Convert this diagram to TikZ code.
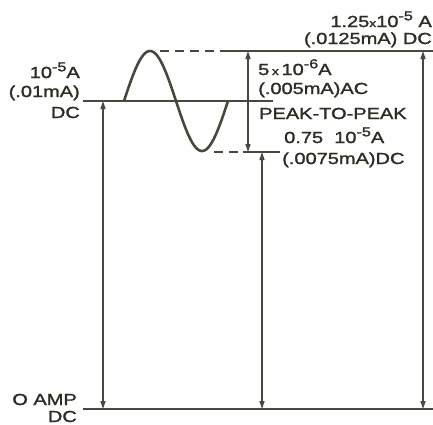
\documentclass[tikz,border=0pt]{standalone}
\usepackage{fontspec}
\setmainfont{Liberation Sans}
\newfontfamily\labfont[FakeStretch=1.25,FakeBold=1.6]{Liberation Sans}
\usetikzlibrary{arrows.meta}
\definecolor{ink}{RGB}{72,72,60}
\definecolor{txt}{RGB}{45,45,36}
\newcommand\sups[1]{\raisebox{0.42em}{\fontsize{13}{13}\selectfont #1}}
\newcommand\smx{{\fontsize{11}{11}\selectfont x}}
\begin{document}
\begin{tikzpicture}[x=1pt,y=-1pt,
  dim/.style={draw=ink,line width=1.3pt,{Triangle[length=8pt,width=5pt]}-{Triangle[length=8pt,width=5pt]}},
  rule/.style={draw=ink,line width=1.3pt},
  dashline/.style={draw=ink,line width=1.3pt,dash pattern=on 9pt off 6pt},
  wave/.style={draw=ink,line width=2.6pt},
  lab/.style={text=txt,font=\labfont\fontsize{16}{20}\selectfont,inner sep=0pt}]
\useasboundingbox (0,0) rectangle (433,424);
% reference lines
\coordinate (b0) at (83,409); \coordinate (b1) at (433,409);
\coordinate (d0) at (83,101); \coordinate (d1) at (273,101);
\coordinate (t0) at (160,51); \coordinate (tm) at (228,51); \coordinate (t1) at (433,51);
\coordinate (l0) at (214,152); \coordinate (lm) at (243,152); \coordinate (l1) at (280,152);
\draw[rule] (b0) -- (b1);
\draw[rule] (d0) -- (d1);
\draw[dashline] (t0) -- (tm);
\draw[rule] (tm) -- (t1);
\draw[dashline] (l0) -- (lm);
\draw[rule] (lm) -- (l1);
% sine wave
\draw[wave] plot[domain=0:104, samples=90, smooth] ({124+\x},{101-50*sin(\x/104*360)});
% dimension arrows
\coordinate (a1t) at (103,101); \coordinate (a1b) at (103,409);
\coordinate (a2t) at (248,51);  \coordinate (a2b) at (248,152);
\coordinate (a3t) at (262,152); \coordinate (a3b) at (262,409);
\coordinate (a4t) at (423,51);  \coordinate (a4b) at (423,409);
\draw[dim] (a1t) -- (a1b);
\draw[dim] (a2t) -- (a2b);
\draw[dim] (a3t) -- (a3b);
\draw[dim] (a4t) -- (a4b);
% labels
\node[lab,anchor=base east] (L1) at (80,78) {10\sups{-5}A};
\node[lab,anchor=base east] (L2) at (80,97) {(.01mA)};
\node[lab,anchor=base east] (L3) at (80,118) {DC};
\node[lab,anchor=base east] (R1) at (432,27) {1.25\smx10\sups{-5} A};
\node[lab,anchor=base east] (R2) at (432,44) {(.0125mA) DC};
\node[lab,anchor=base west] (M1) at (258,75) {5\,\smx\,10\sups{-6}A};
\node[lab,anchor=base west] (M2) at (258,94) {(.005mA)AC};
\node[lab,anchor=base west] (M3) at (259,119) {PEAK-TO-PEAK};
\node[lab,anchor=base west] (N1) at (284,143) {0.75\ \ 10\sups{-5}A};
\node[lab,anchor=base west] (N2) at (282,164) {(.0075mA)DC};
\node[lab,anchor=base east] (Z1) at (77,405) {O AMP};
\node[lab,anchor=base east] (Z2) at (77,422) {DC};
\end{tikzpicture}
\end{document}
